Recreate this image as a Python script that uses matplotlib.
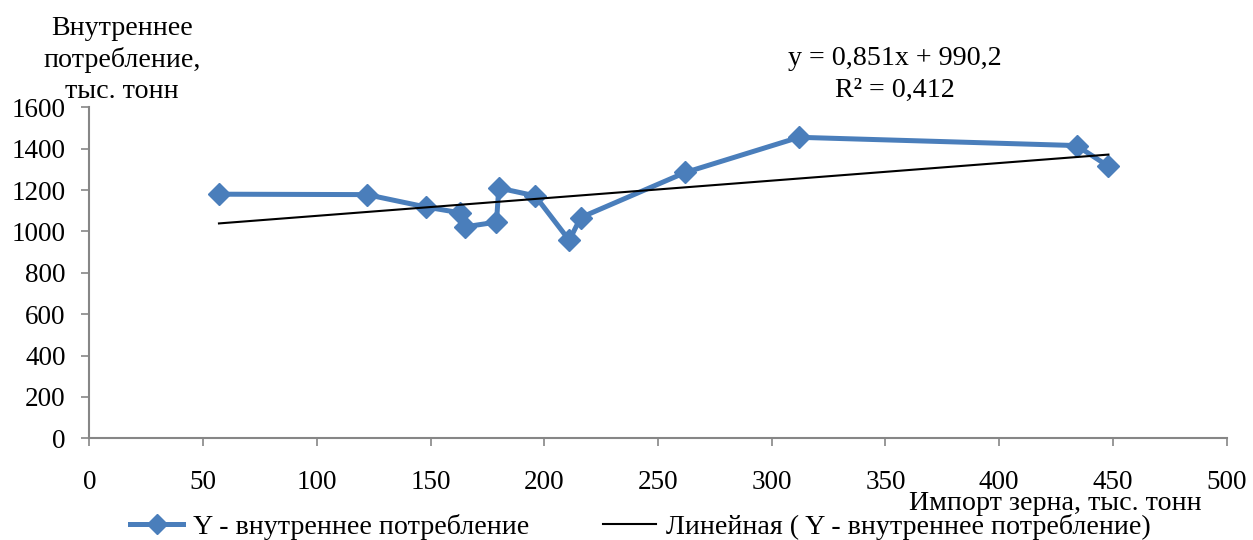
import matplotlib
matplotlib.use("Agg")
import matplotlib.pyplot as plt
from matplotlib.lines import Line2D
import numpy as np

plt.rcParams['font.family'] = ['Liberation Serif', 'DejaVu Serif']

# Imports of grain (thousand tonnes) and domestic consumption (thousand tonnes)
imports = [57, 122, 148, 163, 165, 179, 180, 196, 211, 216, 262, 312, 434, 448]
consumption = [1180, 1178, 1118, 1090, 1022, 1045, 1210, 1172, 957, 1067, 1285, 1455, 1415, 1315]

# Linear trend coefficients
slope = 0.851
intercept = 990.2
r2 = 0.412

x_ticks = [0, 50, 100, 150, 200, 250, 300, 350, 400, 450, 500]
y_ticks = [0, 200, 400, 600, 800, 1000, 1200, 1400, 1600]

blue = '#4A7EBB'
axis_gray = '#868686'
fs_text = 20.2
fs_tick = 19.5

W, H = 1253, 540
fig = plt.figure(figsize=(W / 100, H / 100), dpi=100)
ax = fig.add_axes([89.3 / W, 1 - 438.3 / H, (1226.7 - 89.3) / W, (438.3 - 107.3) / H])

ax.plot(imports, consumption, color=blue, lw=3.6, marker='D', ms=11,
        mec=blue, mfc=blue, solid_joinstyle='round', zorder=3)

xs = np.array([min(imports), max(imports)])
ax.plot(xs, slope * xs + intercept, color='black', lw=1.5, zorder=4)

ax.set_xlim(0, 500)
ax.set_ylim(0, 1600)
ax.set_xticks(x_ticks)
ax.set_yticks(y_ticks)
ax.tick_params(axis='both', labelsize=fs_tick, color=axis_gray, length=6, width=1.2)
ax.tick_params(axis='x', pad=17)
ax.tick_params(axis='y', pad=11)
for s in ('top', 'right'):
    ax.spines[s].set_visible(False)
for s in ('left', 'bottom'):
    ax.spines[s].set_color(axis_gray)
    ax.spines[s].set_linewidth(1.5)

# Y axis title (three lines, top-left)
for line, base in zip(['Внутреннее', 'потребление,', 'тыс. тонн'], [35, 67, 98]):
    fig.text(122 / W, 1 - base / H, line, ha='center', va='baseline', fontsize=fs_text)

# X axis title (bottom-right)
fig.text(1202 / W, 1 - 510 / H, 'Импорт зерна, тыс. тонн', ha='right', va='baseline',
         fontsize=fs_text)

# Trend equation
fig.text(894.5 / W, 1 - 65 / H, f'y = {slope:.3f}x + {intercept:.1f}'.replace('.', ','),
         ha='center', va='baseline', fontsize=fs_text)
fig.text(894.5 / W, 1 - 97 / H, f'R² = {r2:.3f}'.replace('.', ','),
         ha='center', va='baseline', fontsize=fs_text)

handles = [
    Line2D([], [], color=blue, lw=3.6, marker='D', ms=10, mec=blue, mfc=blue),
    Line2D([], [], color='black', lw=1.5),
]
labels = ['Y - внутреннее потребление', 'Линейная ( Y - внутреннее потребление)']
fig.legend(handles, labels, loc='center left', bbox_to_anchor=(130 / W, 1 - 527 / H), ncol=2,
           frameon=False, fontsize=fs_text, handlelength=1.9, handletextpad=0.36,
           columnspacing=2.6, borderpad=0, borderaxespad=0)

fig.savefig('out.png', dpi=100)
